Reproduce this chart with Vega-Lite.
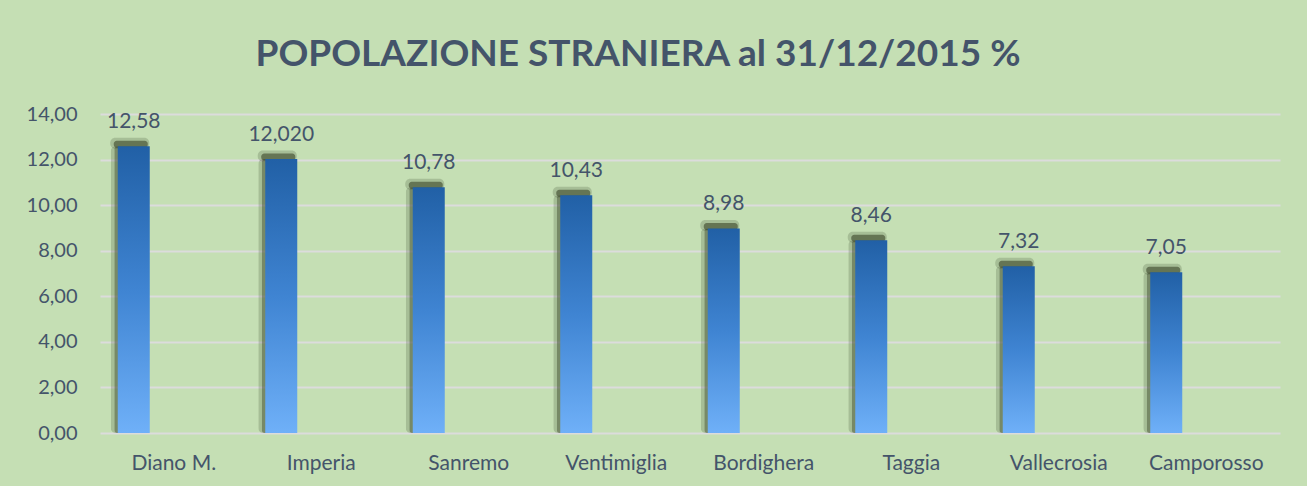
{
  "$schema": "https://vega.github.io/schema/vega-lite/v6.json",
  "width": 1180,
  "height": 319,
  "autosize": {"type": "none"},
  "padding": {"left": 100, "top": 114, "right": 27, "bottom": 53},
  "background": "#c5dfb4",
  "title": {
    "text": "POPOLAZIONE STRANIERA al 31/12/2015 %",
    "font": "Lato",
    "fontWeight": "bold",
    "fontSize": 37,
    "color": "#44546a",
    "anchor": "middle",
    "frame": "group",
    "dx": -52,
    "dy": 29,
    "baseline": "alphabetic",
    "offset": 30
  },
  "config": {
    "view": {"stroke": null},
    "font": "Lato"
  },
  "data": {
    "values": [
      {"comune": "Diano M.", "valore": 12.58, "etichetta": "12,58"},
      {"comune": "Imperia", "valore": 12.02, "etichetta": "12,020"},
      {"comune": "Sanremo", "valore": 10.78, "etichetta": "10,78"},
      {"comune": "Ventimiglia", "valore": 10.43, "etichetta": "10,43"},
      {"comune": "Bordighera", "valore": 8.98, "etichetta": "8,98"},
      {"comune": "Taggia", "valore": 8.46, "etichetta": "8,46"},
      {"comune": "Vallecrosia", "valore": 7.32, "etichetta": "7,32"},
      {"comune": "Camporosso", "valore": 7.05, "etichetta": "7,05"}
    ]
  },
  "encoding": {
    "x": {
      "field": "comune",
      "type": "nominal",
      "sort": null,
      "scale": {"paddingInner": 0, "paddingOuter": 0},
      "axis": {
        "title": null,
        "labelAngle": 0,
        "labelFont": "Lato",
        "labelFontSize": 21,
        "labelColor": "#44546a",
        "labelPadding": 19,
        "domain": false,
        "ticks": false,
        "grid": false
      }
    },
    "y": {
      "field": "valore",
      "type": "quantitative",
      "scale": {"domain": [0, 14], "nice": false},
      "axis": {
        "title": null,
        "values": [0, 2, 4, 6, 8, 10, 12, 14],
        "labelExpr": "replace(format(datum.value, '.2f'), '.', ',')",
        "labelFont": "Lato",
        "labelFontSize": 20,
        "labelColor": "#44546a",
        "labelPadding": 23,
        "domain": false,
        "ticks": false,
        "grid": true,
        "gridColor": "#dcdcdc",
        "gridWidth": 2
      }
    }
  },
  "layer": [
    {
      "mark": {"type": "bar", "width": 38, "xOffset": -44, "color": "#3d4a2c", "opacity": 0.22, "cornerRadius": 5}
    },
    {
      "mark": {"type": "bar", "width": 35, "xOffset": -42, "color": "#3d4a2c", "opacity": 0.45, "cornerRadius": 3}
    },
    {
      "mark": {"type": "tick", "size": 39, "thickness": 11, "xOffset": -44, "yOffset": -3, "color": "#3d4a2c", "opacity": 0.22, "cornerRadius": 5}
    },
    {
      "mark": {"type": "tick", "size": 34, "thickness": 7, "xOffset": -43, "yOffset": -2, "color": "#3a4528", "opacity": 0.6, "cornerRadius": 3}
    },
    {
      "mark": {
        "type": "bar",
        "width": 32,
        "xOffset": -40,
        "color": {
          "gradient": "linear",
          "x1": 0, "y1": 0, "x2": 0, "y2": 1,
          "stops": [
            {"offset": 0, "color": "#2160a6"},
            {"offset": 0.5, "color": "#3f84d2"},
            {"offset": 1, "color": "#6fb0f8"}
          ]
        }
      }
    },
    {
      "mark": {"type": "text", "xOffset": -40, "dy": -18, "baseline": "alphabetic", "font": "Lato", "fontSize": 21, "color": "#44546a"},
      "encoding": {"text": {"field": "etichetta"}}
    }
  ]
}
